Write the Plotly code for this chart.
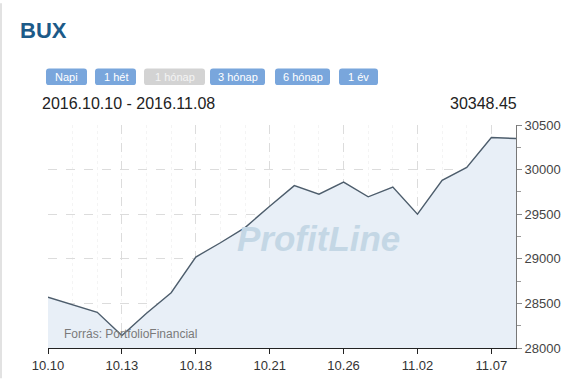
import plotly.graph_objects as go

dates = ["10.10", "10.11", "10.12", "10.13", "10.14", "10.17", "10.18", "10.19", "10.20", "10.21",
         "10.24", "10.25", "10.26", "10.27", "10.28", "11.02", "11.03", "11.04", "11.07", "11.08"]
values = [28570, 28485, 28400, 28140, 28390, 28620, 29020, 29180, 29350, 29590,
          29820, 29725, 29860, 29695, 29805, 29500, 29880, 30025, 30360, 30348.45]
tick_labels = ["10.10", "10.13", "10.18", "10.21", "10.26", "11.02", "11.07"]
y_ticks = [28000, 28500, 29000, 29500, 30000, 30500]
buttons = ["Napi", "1 hét", "1 hónap", "3 hónap", "6 hónap", "1 év"]
active_button = "1 hónap"
title = "BUX"
range_text = "2016.10.10 - 2016.11.08"
last_value_text = "30348.45"
source_text = "Forrás: PortfolioFinancial"
watermark = "ProfitLine"

W, H = 578, 385
L, R, T, B = 48, 516, 125, 354
pw, ph = R - L, B - T


def px(x):
    return (x - L) / pw


def py(y):
    return (B - y) / ph


xs = list(range(len(dates)))
tickvals = [dates.index(t) for t in tick_labels]

fig = go.Figure()
fig.add_trace(go.Scatter(
    x=xs, y=values, mode="lines", fill="tozeroy",
    fillcolor="#e8eff7", line=dict(color="#4d5d6c", width=1.4),
    hoverinfo="skip", showlegend=False))

font = "Arial, Liberation Sans, sans-serif"
fig.update_layout(
    width=W, height=H, margin=dict(l=L, r=W - R, t=T, b=H - B),
    paper_bgcolor="white", plot_bgcolor="white",
    font=dict(family=font, color="#333"),
    xaxis=dict(range=[0, len(dates) - 1], tickvals=tickvals, ticktext=tick_labels,
               showgrid=True, gridcolor="#dcdcdc", griddash="dash", gridwidth=1,
               showline=True, linecolor="#222", linewidth=1.2,
               ticks="outside", ticklen=5, tickcolor="#222",
               tickfont=dict(size=13, color="#333"), zeroline=False,
               minor=dict(dtick=1, tick0=0, showgrid=True, gridcolor="#f4f4f4", griddash="dot")),
    yaxis=dict(range=[28000, 30500], side="right", tickvals=y_ticks,
               ticktext=[str(v) for v in y_ticks],
               showgrid=True, gridcolor="#dcdcdc", griddash="dash", gridwidth=1,
               showline=True, linecolor="#777", linewidth=1,
               ticks="outside", ticklen=5, tickcolor="#888",
               tickfont=dict(size=13, color="#444"), zeroline=False,
               minor=dict(dtick=250, ticks="outside", ticklen=4, tickcolor="#999", showgrid=False)),
)

anns = []
shapes = []
# Title
anns.append(dict(text="<b>" + title + "</b>", x=px(18), y=py(28), xref="paper", yref="paper",
                 xanchor="left", yanchor="middle", showarrow=False,
                 font=dict(size=22, color="#1c5a88", family=font)))
# Buttons
btn_x = [46, 95, 144, 210, 275, 339]
btn_w = [41, 41, 61, 55, 55, 39]
for lbl, bx, bw in zip(buttons, btn_x, btn_w):
    active = lbl == active_button
    col = "#d3d3d3" if active else "#79a6dc"
    x0, x1, y0, y1 = bx, bx + bw, 67, 84
    r = 3
    path = (f"M {px(x0 + r)} {py(y0)} L {px(x1 - r)} {py(y0)} Q {px(x1)} {py(y0)} {px(x1)} {py(y0 + r)} "
            f"L {px(x1)} {py(y1 - r)} Q {px(x1)} {py(y1)} {px(x1 - r)} {py(y1)} "
            f"L {px(x0 + r)} {py(y1)} Q {px(x0)} {py(y1)} {px(x0)} {py(y1 - r)} "
            f"L {px(x0)} {py(y0 + r)} Q {px(x0)} {py(y0)} {px(x0 + r)} {py(y0)} Z")
    shapes.append(dict(type="path", path=path, xref="paper", yref="paper",
                       fillcolor=col, line=dict(width=0), layer="above"))
    anns.append(dict(text=lbl, x=px(bx + bw / 2), y=py(75.5), xref="paper", yref="paper",
                     xanchor="center", yanchor="middle", showarrow=False,
                     font=dict(size=11, color="#f4f4f4" if active else "white", family=font)))
# Range / value
anns.append(dict(text=range_text, x=px(40), y=py(103), xref="paper", yref="paper",
                 xanchor="left", yanchor="middle", showarrow=False,
                 font=dict(size=16, color="#222", family=font)))
anns.append(dict(text=last_value_text, x=px(519), y=py(103), xref="paper", yref="paper",
                 xanchor="right", yanchor="middle", showarrow=False,
                 font=dict(size=16, color="#222", family=font)))
# Watermark
anns.append(dict(text="<b><i>" + watermark + "</i></b>", x=px(318), y=py(242), xref="paper", yref="paper",
                 xanchor="center", yanchor="middle", showarrow=False,
                 font=dict(size=35, color="#c4d7e5", family=font)))
# Source
anns.append(dict(text=source_text, x=px(62), y=py(340), xref="paper", yref="paper",
                 xanchor="left", yanchor="middle", showarrow=False,
                 font=dict(size=12, color="#7a7a7a", family=font)))
# page edge
shapes.append(dict(type="line", x0=px(1), x1=px(1), y0=py(0), y1=py(H), xref="paper", yref="paper",
                   line=dict(color="#e2e2e2", width=2)))

fig.update_layout(annotations=anns, shapes=shapes)
fig.write_html("out.html")
